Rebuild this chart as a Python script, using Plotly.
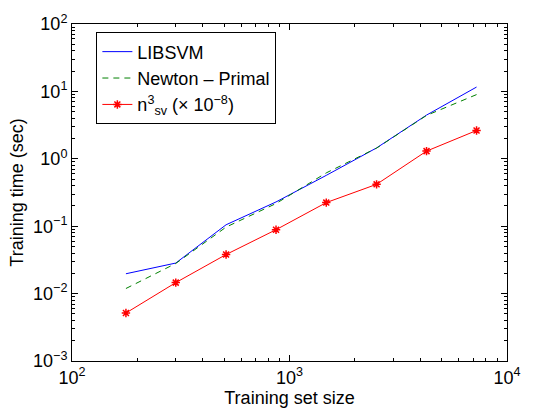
import plotly.graph_objects as go

train_size = [177, 300, 511, 867, 1476, 2514, 4266, 7244]
libsvm_time = [0.0197, 0.0284, 0.105, 0.229, 0.568, 1.45, 4.45, 11.6]
newton_time = [0.0119, 0.028, 0.097, 0.217, 0.618, 1.44, 4.4, 8.97]
nsv_cubed = [0.00515, 0.01455, 0.038, 0.0887, 0.224, 0.418, 1.30, 2.63]

x_tickvals = [1e2, 1e3, 1e4]
x_ticktext = ["10<sup>2</sup>", "10<sup>3</sup>", "10<sup>4</sup>"]
y_tickvals = [1e-3, 1e-2, 1e-1, 1e0, 1e1, 1e2]
y_ticktext = ["10<sup>\u22123</sup>", "10<sup>\u22122</sup>", "10<sup>\u22121</sup>",
              "10<sup>0</sup>", "10<sup>1</sup>", "10<sup>2</sup>"]
minor_digits = [2, 3, 4, 5, 6, 7, 8, 9]

x_minor = [d * 10.0 ** e for e in range(2, 4) for d in minor_digits]
y_minor = [d * 10.0 ** e for e in range(-3, 2) for d in minor_digits]

FONT = "Liberation Sans, Arial, Helvetica, sans-serif"
FS = 18

fig = go.Figure()
fig.add_trace(go.Scatter(x=train_size, y=libsvm_time, mode="lines", name="LIBSVM",
                         legendgroup="a",
                         line=dict(color="rgb(0,0,255)", width=1)))
fig.add_trace(go.Scatter(x=train_size, y=newton_time, mode="lines", name="Newton \u2013 Primal",
                         legendgroup="b",
                         line=dict(color="rgb(0,128,0)", width=1, dash="6px,5px")))
fig.add_trace(go.Scatter(x=train_size, y=nsv_cubed, mode="lines+markers",
                         name="n<sup>3</sup><sub>sv</sub> (\u00d7 10<sup>\u22128</sup>)",
                         legendgroup="c",
                         line=dict(color="rgb(255,0,0)", width=1),
                         marker=dict(symbol="asterisk-open", size=7,
                                     line=dict(color="rgb(255,0,0)", width=1.5))))

axis_common = dict(
    showline=True, linecolor="black", linewidth=1, mirror="allticks",
    ticks="inside", ticklen=6, tickcolor="black", showgrid=False, zeroline=False,
    tickfont=dict(family=FONT, size=FS, color="black"),
)

fig.update_xaxes(type="log", range=[2, 4], tickmode="array", tickvals=x_tickvals,
                 ticktext=x_ticktext,
                 minor=dict(tickmode="array", tickvals=x_minor, ticks="inside", ticklen=3,
                            tickcolor="black", showgrid=False),
                 title=dict(text="Training set size", font=dict(family=FONT, size=FS, color="black"),
                            standoff=0),
                 **axis_common)
fig.update_yaxes(type="log", range=[-3, 2], tickmode="array", tickvals=y_tickvals,
                 ticktext=y_ticktext,
                 minor=dict(tickmode="array", tickvals=y_minor, ticks="inside", ticklen=3,
                            tickcolor="black", showgrid=False),
                 title=dict(text="Training time (sec)", font=dict(family=FONT, size=FS, color="black"),
                            standoff=4),
                 **axis_common)

fig.update_layout(
    width=533, height=412,
    margin=dict(l=72, r=14, t=20, b=48),
    paper_bgcolor="white", plot_bgcolor="white",
    font=dict(family=FONT, size=FS, color="black"),
    legend=dict(x=0.056, y=0.975, xanchor="left", yanchor="top",
                bordercolor="black", borderwidth=1, bgcolor="white",
                tracegroupgap=0, itemwidth=30,
                font=dict(family=FONT, size=FS, color="black")),
    showlegend=True,
)

fig.write_html("out.html")
